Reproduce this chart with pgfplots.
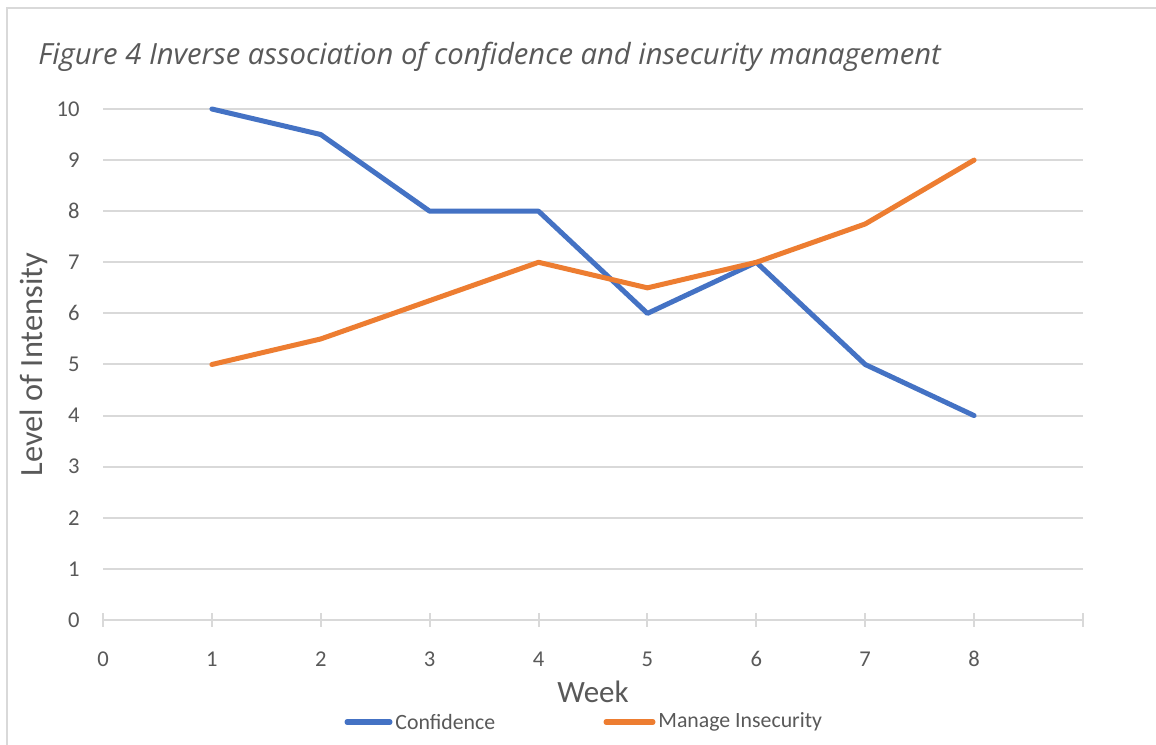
\documentclass[border=0pt]{standalone}
\usepackage{pgfplots}
\pgfplotsset{compat=1.18}
\usepackage{fontspec}
\setmainfont{Carlito}
\newfontfamily\titlefont{Open Sans}
\definecolor{cblue}{HTML}{4472C4}
\definecolor{corange}{HTML}{ED7D31}
\definecolor{gridc}{HTML}{D9D9D9}
\definecolor{txt}{HTML}{595959}
\begin{document}
\begin{tikzpicture}
\useasboundingbox (0,0) rectangle (578pt,372pt);
\fill[white] (0,0) rectangle (578pt,372pt);
\draw[gridc, line width=1pt] (3.5pt,-10pt) -- (3.5pt,368pt) -- (600pt,368pt);
\node[anchor=base west, inner sep=0pt, text=txt, font=\titlefont\itshape\fontsize{14.6}{17}\selectfont] at (19pt,339.5pt) {Figure 4 Inverse association of confidence and insecurity management};
\begin{axis}[
  at={(51.5pt,62pt)}, anchor=origin,
  scale only axis, width=490pt, height=255.5pt,
  xmin=0, xmax=9, ymin=0, ymax=10,
  xtick={0,1,...,9}, xticklabels={0,1,2,3,4,5,6,7,8,},
  ytick={0,1,...,10},
  /pgf/number format/assume math mode=true,
  axis line style={draw=none},
  axis x line*=bottom,
  x axis line style={draw=gridc, line width=1pt},
  ymajorgrids, major grid style={gridc, line width=1pt},
  xtick align=center, major tick length=7pt,
  x tick style={gridc, line width=1pt},
  y tick style={draw=none},
  ticklabel style={font=\fontsize{11.3}{13}\selectfont, text=txt},
  xticklabel style={anchor=base, inner sep=0pt, yshift=-19.8pt},
  yticklabel style={anchor=east, inner sep=0pt, xshift=-11.5pt},
  clip=false,
  axis y line*=left,
  y axis line style={draw=none},
]
\addplot[cblue, line width=2.5pt, line join=round, line cap=round] coordinates {
(1,10) (2,9.5) (3,8) (4,8) (5,6) (6,7) (7,5) (8,4)};
\addplot[corange, line width=2.5pt, line join=round, line cap=round] coordinates {
(1,5) (2,5.5) (3,6.25) (4,7) (5,6.5) (6,7) (7,7.75) (8,9)};
\end{axis}
\node[text=txt, font=\fontsize{15.5}{18}\selectfont, anchor=center] at (296.5pt,26pt) {Week};
\node[text=txt, font=\fontsize{16.2}{18}\selectfont, anchor=center, rotate=90] at (17pt,189.75pt) {Level of Intensity};
\draw[cblue, line width=2.5pt, line cap=round] (173.5pt,11pt) -- (195pt,11pt);
\node[text=txt, font=\fontsize{10.9}{13}\selectfont, anchor=west, inner sep=0pt] at (197.5pt,11pt) {Confidence};
\draw[corange, line width=2.5pt, line cap=round] (303pt,11pt) -- (326.5pt,11pt);
\node[text=txt, font=\fontsize{10.9}{13}\selectfont, anchor=west, inner sep=0pt] at (329pt,11pt) {Manage Insecurity};
\end{tikzpicture}
\end{document}
